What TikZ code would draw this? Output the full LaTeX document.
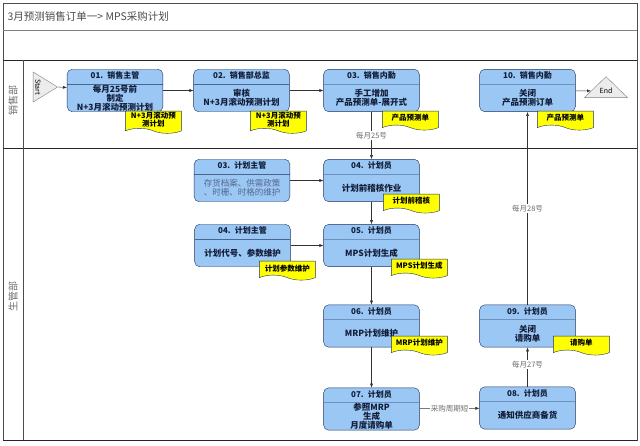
\documentclass[tikz,border=0pt]{standalone}
\usepackage{fontspec}
\setmainfont{Noto Sans CJK SC}
\usetikzlibrary{arrows.meta}
\usetikzlibrary{positioning}
\usetikzlibrary{shapes.multipart,shapes.geometric,shapes.symbols}

\definecolor{boxblue}{RGB}{155,199,244}
\definecolor{navy}{RGB}{30,50,95}
\definecolor{docyellow}{RGB}{255,255,0}
\definecolor{lblgrey}{RGB}{110,110,110}
\definecolor{notegrey}{RGB}{85,105,140}

% body part of a process box, fixed height
\newcommand{\bodytext}[1]{\parbox[c][22pt][c]{89pt}{\centering\fontsize{8.5}{9}\selectfont #1}}

\begin{document}
\begin{tikzpicture}[x=1pt, y=-1pt,
    proc/.style={rectangle split, rectangle split parts=2, draw=navy, fill=boxblue,
        rounded corners=5pt, minimum width=93pt, text width=89pt,
        align=center, inner ysep=2.5pt, text=navy!60!black,
        execute at begin node=\strut,
        font=\bfseries\fontsize{8}{9}\selectfont},
    doc/.style={tape, tape bend top=none, tape bend bottom=out and in, tape bend height=5pt,
        draw=navy, fill=docyellow, minimum width=56pt, minimum height=19pt, inner sep=1pt,
        align=center, font=\bfseries\fontsize{7.5}{8}\selectfont},
    term/.style={isosceles triangle, shape border rotate=90, isosceles triangle stretches,
        draw=gray, fill=gray!15, inner sep=0pt, font=\fontsize{7}{8}\selectfont},
    lbl/.style={fill=white, text=lblgrey, inner sep=1pt, font=\fontsize{7.5}{8}\selectfont},
    link/.style={draw=black!80, -{Latex[length=4pt,width=3pt]}}]
    \useasboundingbox (0,0) rectangle (640,445);

    % frame and lanes
    \draw[black!70] (3,3) rectangle (637,440);
    \draw[black!50] (3,30) -- (637,30);
    \draw[black!85, line width=1pt] (3,60) -- (637,60);
    \draw[black!85, line width=1pt] (3,148) -- (637,148);
    \draw[black!70] (23,60) -- (23,440);
    \draw[black!85, line width=1pt] (3,440) -- (637,440);

    \node (title) [anchor=west, text=black!70, font=\fontsize{10.5}{12}\selectfont] at (4,17) {3月预测销售订单一> MPS采购计划};
    \node (sales) [rotate=90, text=lblgrey, font=\fontsize{10}{12}\selectfont] at (13,100) {销售部};
    \node (prod) [rotate=90, text=lblgrey, font=\fontsize{10}{12}\selectfont] at (13,296) {生管部};

    % sales lane
    \node (start) [term, rotate=-90, minimum width=30pt, minimum height=20pt] at (38,87) {Start};
    \node (b01) [proc] at (115,90.5) {01. 销售主管 \nodepart{two} \bodytext{每月25号前\\制定\\N+3月滚动预测计划}};
    \node (b02) [proc] at (241.5,90.5) {02. 销售部总监 \nodepart{two} \bodytext{审核\\N+3月滚动预测计划}};
    \node (b03) [proc] at (371.5,90.5) {03. 销售内勤 \nodepart{two} \bodytext{手工增加\\产品预测单-展开式}};
    \node (b10) [proc] at (527.5,90.5) {10. 销售内勤 \nodepart{two} \bodytext{关闭\\产品预测订单}};
    \node (end) [term, minimum width=43pt, minimum height=21pt] at (606,91) {End};

    % production lane
    \node (p03) [proc] at (242,180.5) {03. 计划主管 \nodepart{two} \bodytext{\mdseries\color{notegrey}存货档案、供需政策\\、时栅、时格的维护}};
    \node (p04) [proc] at (371.5,180.5) {04. 计划员 \nodepart{two} \bodytext{计划前稽核作业}};
    \node (p04b) [proc] at (242.5,245.5) {04. 计划主管 \nodepart{two} \bodytext{计划代号、参数维护}};
    \node (p05) [proc] at (371.5,245.5) {05. 计划员 \nodepart{two} \bodytext{MPS计划生成}};
    \node (p06) [proc] at (371.5,326) {06. 计划员 \nodepart{two} \bodytext{MRP计划维护}};
    \node (p07) [proc] at (371.5,409) {07. 计划员 \nodepart{two} \bodytext{参照MRP\\生成\\月度请购单}};
    \node (p08) [proc] at (527.5,408) {08. 计划员 \nodepart{two} \bodytext{通知供应商备货}};
    \node (p09) [proc] at (527.5,326) {09. 计划员 \nodepart{two} \bodytext{关闭\\请购单}};

    % documents
    \node (d01) [doc, below left=-1pt and -18.5pt of b01.south east] {N+3月滚动预\\测计划};
    \node (d02) [doc, below left=-1pt and -17pt of b02.south east] {N+3月滚动预\\测计划};
    \node (d03) [doc, below left=-1pt and -19pt of b03.south east] {产品预测单};
    \node (d10) [doc, below left=-1pt and -18pt of b10.south east] {产品预测单};
    \node (d04) [doc, below left=-8pt and -20pt of p04.south east] {计划前稽核};
    \node (d04b) [doc, below left=-6pt and -25pt of p04b.south east] {计划参数维护};
    \node (d05) [doc, below left=-8pt and -28pt of p05.south east] {MPS计划生成};
    \node (d06) [doc, below left=-11.5pt and -28pt of p06.south east] {MRP计划维护};
    \node (d09) [doc, below left=-11.5pt and -34pt of p09.south east] {请购单};

    % flow
    \draw[link] (start.apex) -- (b01);
    \draw[link] (b01) -- (b02);
    \draw[link] (b02) -- (b03);
    \draw[link] (b03) -- node[lbl] {每月25号} (p04);
    \draw[link] (p03) -- (p04);
    \draw[link] (p04) -- (p05);
    \draw[link] (p04b) -- (p05);
    \draw[link] (p05) -- (p06);
    \draw[link] (p06) -- (p07);
    \draw[link] (p07) -- node[lbl] {采购周期短} (p08);
    \draw[link] (p08) -- node[lbl, pos=0.56] {每月27号} (p09);
    \draw[link] (p09) -- node[lbl] {每月28号} (b10);
    \draw[link] (b10) -- (end);
\end{tikzpicture}
\end{document}
